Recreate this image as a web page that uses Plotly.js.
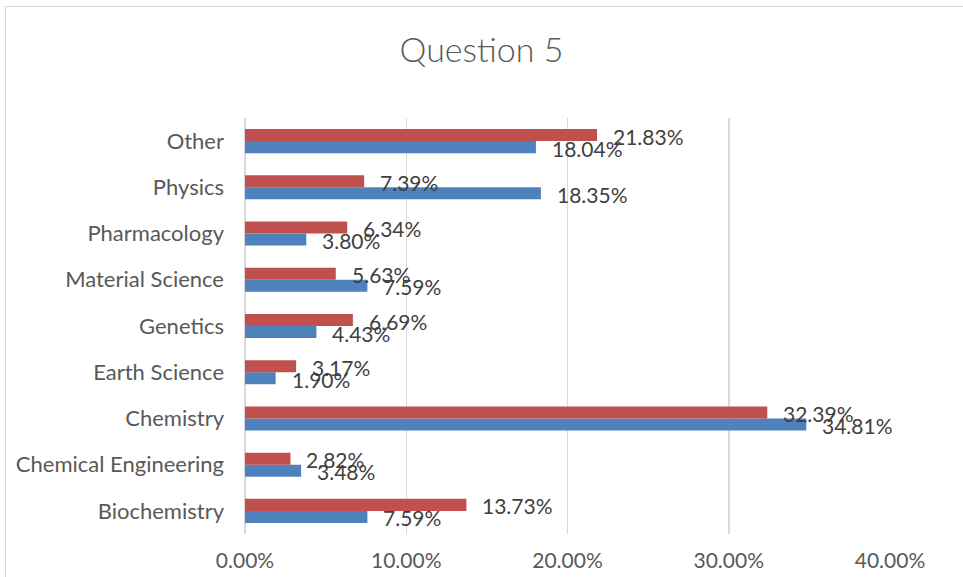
<!DOCTYPE html>
<html>
<head>
<meta charset="utf-8">
<script src="https://cdn.plot.ly/plotly-3.0.1.min.js"></script>
<style>
html, body { margin:0; padding:0; background:#fff; overflow:hidden; }
#wrap { position:relative; width:963px; height:577px; }
#chart { position:absolute; left:0; top:0; width:963px; height:577px; }
#frame { position:absolute; left:5px; top:6px; width:1000px; height:700px; border-left:1.5px solid #d9d9d9; border-top:1.5px solid #d9d9d9; pointer-events:none; }
</style>
</head>
<body>
<div id="wrap"><div id="chart"></div><div id="frame"></div></div>
<script>
const categories = ["Biochemistry", "Chemical Engineering", "Chemistry", "Earth Science", "Genetics", "Material Science", "Pharmacology", "Physics", "Other"];
const seriesBlue = [7.59, 3.48, 34.81, 1.90, 4.43, 7.59, 3.80, 18.35, 18.04];
const seriesRed  = [13.73, 2.82, 32.39, 3.17, 6.69, 5.63, 6.34, 7.39, 21.83];
const xTicks = [0, 10, 20, 30, 40];

const FONT = "Lato, 'Open Sans', sans-serif";
const blue = "#4F81BD", red = "#C0504D";

const traces = [
  { type:"bar", orientation:"h", name:"Series 1", y:categories, x:seriesBlue,
    marker:{ color:blue }, hoverinfo:"skip" },
  { type:"bar", orientation:"h", name:"Series 2", y:categories, x:seriesRed,
    marker:{ color:red }, hoverinfo:"skip" }
];

const annotations = [];
categories.forEach((c, i) => {
  annotations.push({ x:seriesRed[i], y:c, xref:"x", yref:"y", text:seriesRed[i].toFixed(2) + "%",
    showarrow:false, xanchor:"left", yanchor:"middle", xshift:14, yshift:5,
    font:{ family:FONT, size:21, color:"#404040" } });
  annotations.push({ x:seriesBlue[i], y:c, xref:"x", yref:"y", text:seriesBlue[i].toFixed(2) + "%",
    showarrow:false, xanchor:"left", yanchor:"middle", xshift:14, yshift:-7,
    font:{ family:FONT, size:21, color:"#404040" } });
});

const layout = {
  width:963, height:577,
  margin:{ l:245, r:73, t:118, b:43 },
  paper_bgcolor:"#ffffff", plot_bgcolor:"#ffffff",
  showlegend:false,
  hovermode:false,
  barmode:"group", bargap:0.48, bargroupgap:0,
  title:{ text:"Question 5", x:0.5, xanchor:"center", y:1 - 50/577, yanchor:"middle",
    font:{ family:FONT, size:34, weight:300, color:"#595959" } },
  xaxis:{ range:[0, 40], tickvals:xTicks, ticktext:xTicks.map(v => v.toFixed(2) + "%"),
    showgrid:true, gridcolor:"#d9d9d9", gridwidth:1.5,
    zeroline:true, zerolinecolor:"#d9d9d9", zerolinewidth:1.5,
    showline:false, ticks:"", ticklabelstandoff:12,
    tickfont:{ family:FONT, size:21, color:"#595959" }, fixedrange:true },
  yaxis:{ type:"category", categoryorder:"array", categoryarray:categories,
    showgrid:false, zeroline:false, showline:false, ticks:"", ticklabelstandoff:20,
    tickfont:{ family:FONT, size:22, color:"#595959" }, fixedrange:true },
  annotations:annotations
};

Plotly.newPlot("chart", traces, layout, { staticPlot:true, displayModeBar:false });
</script>
</body>
</html>
